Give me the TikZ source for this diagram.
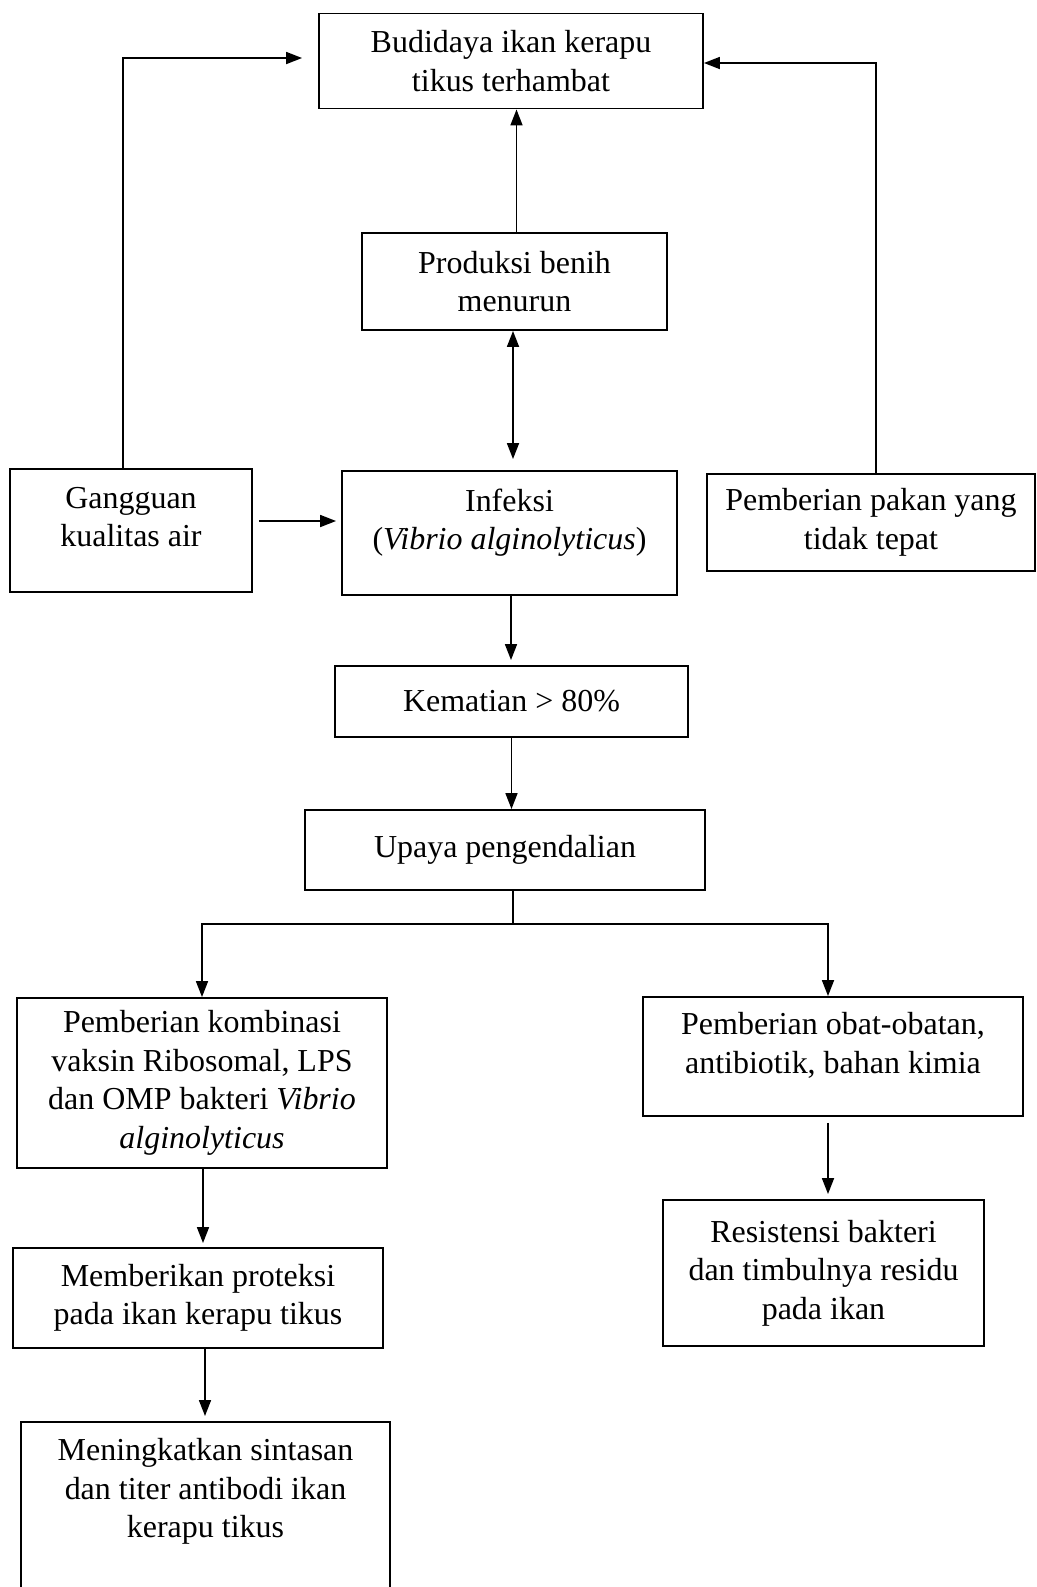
\documentclass[tikz,border=0pt]{standalone}
\usepackage{fontspec}
\setmainfont{Liberation Serif}
\usetikzlibrary{arrows.meta,calc}
\tikzset{
  box/.style={draw,line width=1.1pt,align=center,inner sep=4pt,
    font=\fontsize{18.2}{21.9}\selectfont},
  arr/.style={-{Triangle[length=3.2mm,width=2.4mm]},line width=1pt},
  darr/.style={{Triangle[length=3.2mm,width=2.4mm]}-{Triangle[length=3.2mm,width=2.4mm]},line width=1pt},
  lin/.style={line width=1pt},
}

\begin{document}
\begin{tikzpicture}[x=0.02cm,y=-0.02cm]
\useasboundingbox (0,0) rectangle (1037,1587);
% upper part
\node[box,minimum width=7.68cm,minimum height=1.9cm] (top) at (511,61)
  {Budidaya ikan kerapu\\tikus terhambat};
\node[box,minimum width=6.1cm,minimum height=1.94cm] (prod) at (514.5,281.5)
  {Produksi benih\\menurun};
\node[box,minimum width=4.84cm,minimum height=2.46cm,text depth=0.55cm] (gang) at (131,530.5)
  {Gangguan\\kualitas air};
\node[box,minimum width=6.7cm,minimum height=2.48cm,text depth=0.55cm] (inf) at (509.5,533)
  {Infeksi\\(\textit{Vibrio alginolyticus})};
\node[box,minimum width=6.56cm,minimum height=1.94cm] (pakan) at (871,522.5)
  {Pemberian pakan yang\\tidak tepat};
\node[box,minimum width=7.06cm,minimum height=1.42cm] (mati) at (511.5,701.5)
  {Kematian > 80\%};
\node[box,minimum width=8cm,minimum height=1.6cm] (upaya) at (505,850)
  {Upaya pengendalian};
% two branches
\node[box,minimum width=7.4cm,minimum height=3.4cm] (vaksin) at (202,1083)
  {Pemberian kombinasi\\vaksin Ribosomal, LPS\\dan OMP bakteri \textit{Vibrio}\\\textit{alginolyticus}};
\node[box,minimum width=7.6cm,minimum height=2.38cm,text depth=0.55cm] (obat) at (833,1056.5)
  {Pemberian obat-obatan,\\antibiotik, bahan kimia};
\node[box,minimum width=7.4cm,minimum height=2cm] (proteksi) at (198,1298)
  {Memberikan proteksi\\pada ikan kerapu tikus};
\node[box,minimum width=6.42cm,minimum height=2.92cm] (resisten) at (823.5,1273)
  {Resistensi bakteri\\dan timbulnya residu\\pada ikan};
\node[box,minimum width=7.38cm,anchor=north,text height=2.17cm,text depth=1.76cm] (sintasan) at (205.5,1421)
  {Meningkatkan sintasan\\dan titer antibodi ikan\\kerapu tikus};

\coordinate (split) at (513,924);

\draw[arr] ([xshift=-0.16cm]gang.north) |- ([xshift=-0.32cm,yshift=0.06cm]top.west);
\draw[arr] ([xshift=0.1cm]pakan.north) |- ([yshift=-0.04cm]top.east);
\draw[arr] ([xshift=0.04cm]prod.north) -- ([xshift=0.04cm]prod.north |- top.south);
\draw[darr,shorten >=0.22cm] ([xshift=-0.03cm]prod.south) -- ([xshift=-0.03cm]prod.south |- inf.north);
\draw[arr,shorten <=0.12cm,shorten >=0.1cm] ([yshift=0.19cm]gang.east) -- ([yshift=0.19cm]gang.east -| inf.west);
\draw[arr,shorten >=0.1cm] ([xshift=0.03cm]inf.south) -- ([xshift=0.03cm]inf.south |- mati.north);
\draw[arr] (mati.south) -- (mati.south |- upaya.north);
\draw[lin] (upaya.south -| split) -- (split);
\draw[arr] (split) -| (vaksin.north);
\draw[arr] (split) -| ([xshift=-0.1cm]obat.north);
\draw[arr,shorten >=0.08cm] ([xshift=0.02cm]vaksin.south) -- ([xshift=0.02cm]vaksin.south |- proteksi.north);
\draw[arr,shorten >=0.1cm] ([xshift=0.14cm]proteksi.south) -- ([xshift=0.14cm]proteksi.south |- sintasan.north);
\draw[arr,shorten <=0.12cm,shorten >=0.1cm] ([xshift=-0.1cm]obat.south) -- ([xshift=-0.1cm]obat.south |- resisten.north);
\end{tikzpicture}
\end{document}
